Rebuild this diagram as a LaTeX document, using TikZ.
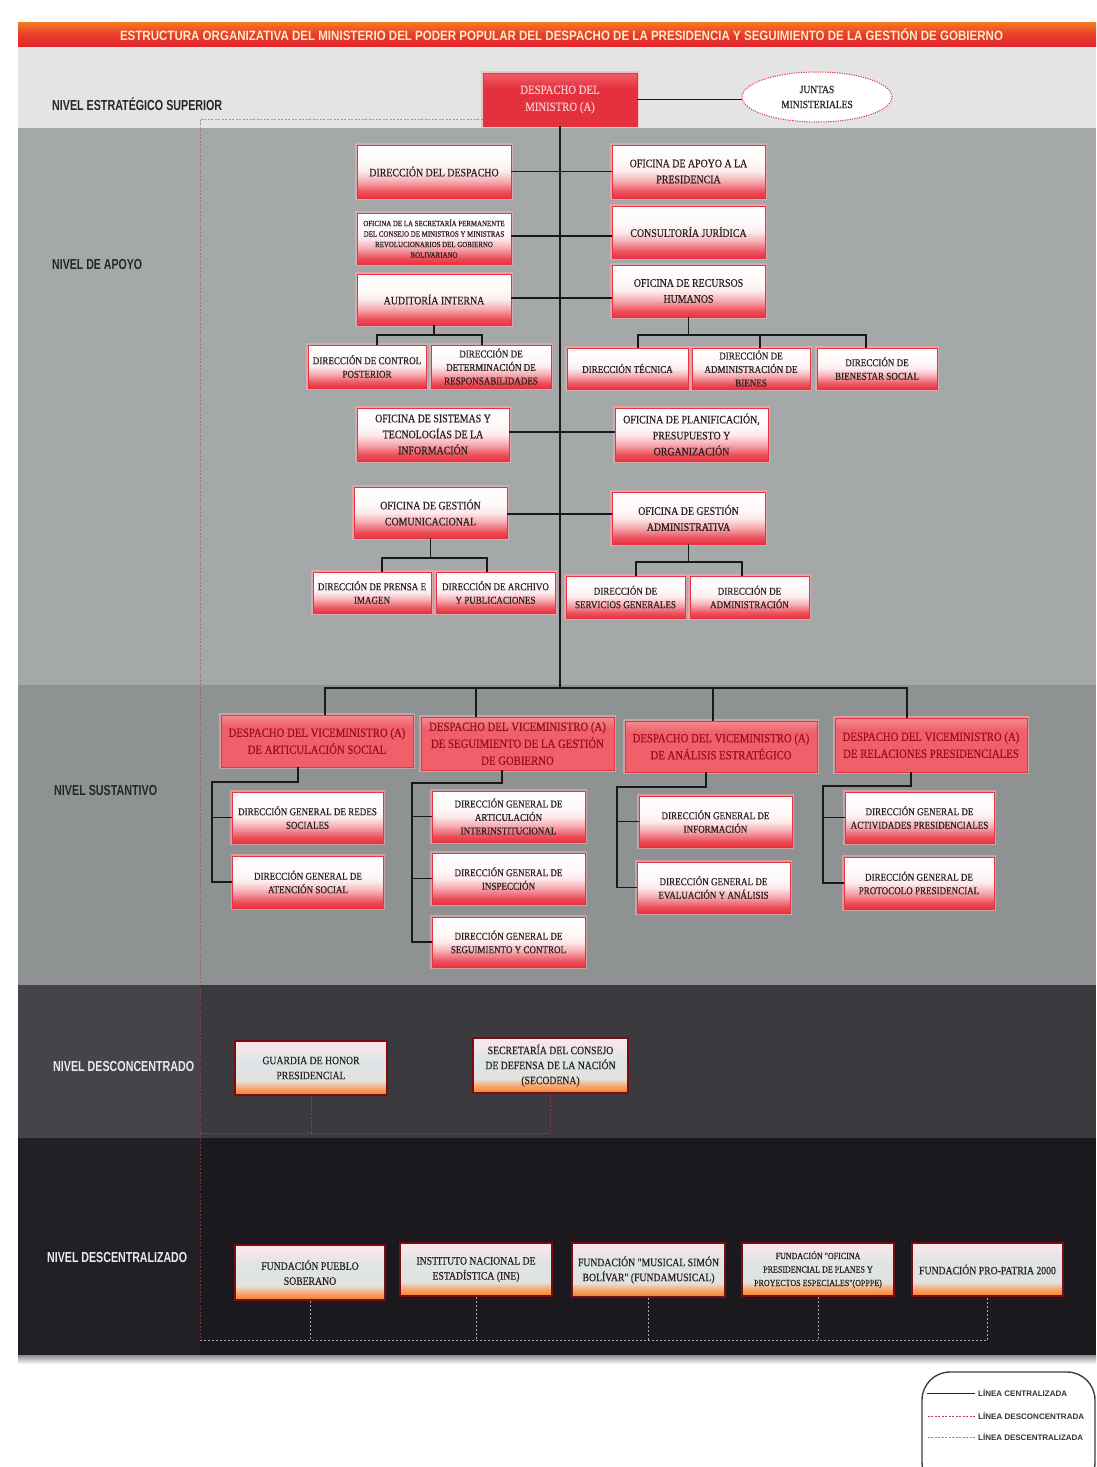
\documentclass[tikz,border=0pt]{standalone}
\usepackage{fontspec}
\usepackage{graphicx}
\setmainfont{Liberation Serif}
\newfontfamily\bxf[FakeStretch=0.86,FakeBold=0.5]{Liberation Serif}
\newfontfamily\lbf{Liberation Sans}
\usetikzlibrary{shapes.geometric}
\definecolor{bred}{HTML}{E8323F}
\colorlet{wsA}{bred!85!white}
\colorlet{wsB}{bred!40!white}
\colorlet{wsC}{bred!10!white}
\colorlet{wsD}{bred!3!white}
\definecolor{txtd}{HTML}{2A2222}
\definecolor{minred}{HTML}{E5303E}
\definecolor{minredt}{HTML}{EF5F69}
\definecolor{mintxt}{HTML}{FBC9CC}
\definecolor{vred}{HTML}{F0606A}
\definecolor{vredt}{HTML}{F58C92}
\definecolor{vtxt}{HTML}{9A1020}
\definecolor{org}{HTML}{F57A2A}
\definecolor{orgB}{HTML}{F8A466}
\definecolor{oC}{HTML}{E3E1DD}
\definecolor{oD}{HTML}{DDE5E7}
\definecolor{oE}{HTML}{FCE6EA}
\definecolor{descb}{HTML}{7A0C12}
\definecolor{bandA}{HTML}{E4E4E4}
\definecolor{bandB}{HTML}{A5A8A8}
\definecolor{bandC}{HTML}{8F9293}
\definecolor{bandD}{HTML}{3B3A3F}
\definecolor{bandDl}{HTML}{45444A}
\definecolor{bandE}{HTML}{1B191E}
\definecolor{bandEl}{HTML}{222025}
\definecolor{titA}{HTML}{F47C22}
\definecolor{titB}{HTML}{E3242D}
\definecolor{titc}{HTML}{FDEBC4}
\definecolor{dconc}{HTML}{C04050}
\pgfdeclareverticalshading{wshade}{100bp}{color(0bp)=(bred); color(25bp)=(bred); color(31bp)=(wsA); color(41bp)=(wsB); color(50bp)=(wsC); color(58bp)=(wsD); color(75bp)=(white); color(100bp)=(white)}
\pgfdeclareverticalshading{mshade}{100bp}{color(0bp)=(minred); color(25bp)=(minred); color(60bp)=(minred); color(75bp)=(minredt); color(100bp)=(minredt)}
\pgfdeclareverticalshading{vshade}{100bp}{color(0bp)=(vred); color(25bp)=(vred); color(64bp)=(vred); color(75bp)=(vredt); color(100bp)=(vredt)}
\pgfdeclareverticalshading{oshade}{100bp}{color(0bp)=(org); color(25bp)=(org); color(31bp)=(orgB); color(38bp)=(oC); color(55bp)=(oD); color(75bp)=(oE); color(100bp)=(oE)}
\tikzset{
  bx/.style 2 args={minimum width=#1pt, minimum height=#2pt},
  wbox/.style={rectangle, shade, shading=wshade, draw=bred, line width=0.9pt,
    preaction={draw=bred!40!white, line width=3.5pt, opacity=0.6},
    inner sep=1pt, align=center, text=txtd, font=\bxf\fontsize{11.5}{16}\selectfont},
  sbox/.style={wbox, font=\bxf\fontsize{10.5}{13.5}\selectfont},
  mbox/.style={rectangle, shade, shading=mshade, draw=bred, line width=0.9pt,
    preaction={draw=bred!40!white, line width=3.5pt, opacity=0.6},
    inner sep=1pt, align=center, text=mintxt, font=\bxf\fontsize{12.5}{17}\selectfont},
  vbox/.style={rectangle, shade, shading=vshade, draw=bred, line width=0.9pt,
    preaction={draw=bred!40!white, line width=3.5pt, opacity=0.6},
    inner sep=1pt, align=center, text=vtxt, font=\bxf\fontsize{12.5}{17}\selectfont},
  obox/.style={rectangle, shade, shading=oshade, draw=descb, line width=1.6pt,
    inner sep=1pt, align=center, text=txtd, font=\bxf\fontsize{11.3}{15}\selectfont},
  conn/.style={draw=black!90, line width=1.7pt},
  spine/.style={draw=black!90, line width=1.3pt},
  dcon/.style={draw=dconc, line width=0.9pt, dash pattern=on 2pt off 1.5pt, opacity=0.6},
  dcent/.style={draw=black!35, line width=0.9pt, dash pattern=on 2pt off 2pt},
  lvl/.style={inner sep=0pt, font=\lbf\bfseries\fontsize{14.5}{16}\selectfont},
  legt/.style={inner sep=0pt, text=black!80, font=\lbf\bfseries\fontsize{8}{9}\selectfont},
  legbox/.style={draw=black!75, line width=1.4pt, fill=white, rounded corners=28pt}
}
\begin{document}
\begin{tikzpicture}[x=1pt,y=-1pt]
\useasboundingbox (0,0) rectangle (1096,1467);
\clip (0,0) rectangle (1096,1467);
\fill[white] (0,0) rectangle (1096,1467);
% bands
\fill[bandA] (18,46) rectangle (1096,128);
\fill[bandB] (18,128) rectangle (1096,685);
\fill[bandC] (18,685) rectangle (1096,985);
\fill[bandD] (18,985) rectangle (1096,1138);
\fill[bandDl] (18,985) rectangle (200,1138);
\fill[bandE] (18,1138) rectangle (1096,1355);
\fill[bandEl] (18,1138) rectangle (200,1355);
\shade[top color=black!45, bottom color=white] (18,1355) rectangle (1096,1364);
% title bar
\shade[top color=titA, bottom color=titB, middle color=titB!70!titA] (18,22) rectangle (1096,46);
\node[text=titc, inner sep=0pt, font=\lbf\bfseries\fontsize{13.5}{15}\selectfont] (title) at (561.5,34.5)
  {\resizebox{883pt}{\height}{ESTRUCTURA ORGANIZATIVA DEL MINISTERIO DEL PODER POPULAR DEL DESPACHO DE LA PRESIDENCIA Y SEGUIMIENTO DE LA GESTIÓN DE GOBIERNO}};
% level labels
\node[lvl, anchor=west, text=black!85] (l1) at (52,104) {\resizebox{170pt}{\height}{NIVEL ESTRATÉGICO SUPERIOR}};
\node[lvl, anchor=west, text=black!85] (l2) at (52,265) {\resizebox{90pt}{\height}{NIVEL DE APOYO}};
\node[lvl, anchor=west, text=black!85] (l3) at (54,790) {\resizebox{103pt}{\height}{NIVEL SUSTANTIVO}};
\node[lvl, anchor=west, text=white!92!black] (l4) at (53,1066) {\resizebox{141pt}{\height}{NIVEL DESCONCENTRADO}};
\node[lvl, anchor=west, text=white!92!black] (l5) at (47,1257) {\resizebox{140pt}{\height}{NIVEL DESCENTRALIZADO}};
% top level
\node[mbox, bx={154}{53}] (min) at (560,99.5) {DESPACHO DEL\\MINISTRO (A)};
\node[ellipse, draw=bred, dash pattern=on 1.2pt off 1.2pt, line width=1pt, fill=white, bx={150}{50}, inner sep=0pt, align=center, text=txtd, font=\bxf\fontsize{11}{15}\selectfont] (jun) at (817,97) {JUNTAS\\MINISTERIALES};
% apoyo level
\node[wbox, bx={154}{53}] (dd) at (434,171.5) {DIRECCIÓN DEL DESPACHO};
\node[wbox, bx={154}{51}, font=\bxf\fontsize{8}{10.5}\selectfont] (sec) at (434,238.5) {OFICINA DE LA SECRETARÍA PERMANENTE\\DEL CONSEJO DE MINISTROS Y MINISTRAS\\REVOLUCIONARIOS DEL GOBIERNO\\BOLIVARIANO};
\node[wbox, bx={154}{51}] (aud) at (434,299.5) {AUDITORÍA INTERNA};
\node[wbox, bx={153}{53}] (apo) at (688.5,171.5) {OFICINA DE APOYO A LA\\PRESIDENCIA};
\node[wbox, bx={153}{52}] (cj) at (688.5,232) {CONSULTORÍA JURÍDICA};
\node[wbox, bx={153}{52}] (rrhh) at (688.5,291) {OFICINA DE RECURSOS\\HUMANOS};
\node[sbox, bx={118}{43}] (dcp) at (367,366.5) {DIRECCIÓN DE CONTROL\\POSTERIOR};
\node[sbox, bx={120}{43}] (ddr) at (491,366.5) {DIRECCIÓN DE\\DETERMINACIÓN DE\\RESPONSABILIDADES};
\node[sbox, bx={121}{41}] (dt) at (627.5,368.5) {DIRECCIÓN TÉCNICA};
\node[sbox, bx={118}{41}] (dab) at (751,368.5) {DIRECCIÓN DE\\ADMINISTRACIÓN DE\\BIENES};
\node[sbox, bx={120}{41}] (dbs) at (877,368.5) {DIRECCIÓN DE\\BIENESTAR SOCIAL};
\node[wbox, bx={152}{53}] (ost) at (433,434.5) {OFICINA DE SISTEMAS Y\\TECNOLOGÍAS DE LA\\INFORMACIÓN};
\node[wbox, bx={153}{53}] (opp) at (691.5,434.5) {OFICINA DE PLANIFICACIÓN,\\PRESUPUESTO Y\\ORGANIZACIÓN};
\node[wbox, bx={153}{51}] (ogc) at (430.5,512.5) {OFICINA DE GESTIÓN\\COMUNICACIONAL};
\node[wbox, bx={153}{52}] (oga) at (688.5,518) {OFICINA DE GESTIÓN\\ADMINISTRATIVA};
\node[sbox, bx={118}{41}] (dpi) at (372,592.5) {DIRECCIÓN DE PRENSA E\\IMAGEN};
\node[sbox, bx={119}{41}] (dap) at (495.5,592.5) {DIRECCIÓN DE ARCHIVO\\Y PUBLICACIONES};
\node[sbox, bx={119}{42}] (dsg) at (625.5,597) {DIRECCIÓN DE\\SERVICIOS GENERALES};
\node[sbox, bx={119}{42}] (dad) at (749.5,597) {DIRECCIÓN DE\\ADMINISTRACIÓN};
% sustantivo level
\node[vbox, bx={192}{52}] (v1) at (317,741) {DESPACHO DEL VICEMINISTRO (A)\\DE ARTICULACIÓN SOCIAL};
\node[vbox, bx={193}{53}] (v2) at (517.5,743.5) {DESPACHO DEL VICEMINISTRO (A)\\DE SEGUIMIENTO DE LA GESTIÓN\\DE GOBIERNO};
\node[vbox, bx={192}{51}] (v3) at (721,746.5) {DESPACHO DEL VICEMINISTRO (A)\\DE ANÁLISIS ESTRATÉGICO};
\node[vbox, bx={192}{54}] (v4) at (931,745) {DESPACHO DEL VICEMINISTRO (A)\\DE RELACIONES PRESIDENCIALES};
\node[sbox, bx={151}{51}] (g11) at (307.5,817.5) {DIRECCIÓN GENERAL DE REDES\\SOCIALES};
\node[sbox, bx={151}{52}] (g12) at (308,882) {DIRECCIÓN GENERAL DE\\ATENCIÓN SOCIAL};
\node[sbox, bx={153}{51}] (g21) at (508.5,816.5) {DIRECCIÓN GENERAL DE\\ARTICULACIÓN\\INTERINSTITUCIONAL};
\node[sbox, bx={153}{51}] (g22) at (508.5,878.5) {DIRECCIÓN GENERAL DE\\INSPECCIÓN};
\node[sbox, bx={153}{50}] (g23) at (508.5,942) {DIRECCIÓN GENERAL DE\\SEGUIMIENTO Y CONTROL};
\node[sbox, bx={153}{51}] (g31) at (715.5,821.5) {DIRECCIÓN GENERAL DE\\INFORMACIÓN};
\node[sbox, bx={153}{51}] (g32) at (713.5,887.5) {DIRECCIÓN GENERAL DE\\EVALUACIÓN Y ANÁLISIS};
\node[sbox, bx={149}{51}] (g41) at (919.5,817.5) {DIRECCIÓN GENERAL DE\\ACTIVIDADES PRESIDENCIALES};
\node[sbox, bx={150}{52}] (g42) at (919,883) {DIRECCIÓN GENERAL DE\\PROTOCOLO PRESIDENCIAL};
% desconcentrado
\node[obox, bx={152}{54}] (ghp) at (311,1068) {GUARDIA DE HONOR\\PRESIDENCIAL};
\node[obox, bx={155}{55}] (scd) at (550.5,1065.5) {SECRETARÍA DEL CONSEJO\\DE DEFENSA DE LA NACIÓN\\(SECODENA)};
% descentralizado
\node[obox, bx={150}{55}] (fps) at (310,1272.5) {FUNDACIÓN PUEBLO\\SOBERANO};
\node[obox, bx={152}{53}] (ine) at (476,1269.5) {INSTITUTO NACIONAL DE\\ESTADÍSTICA (INE)};
\node[obox, bx={153}{54}] (fms) at (648.5,1270) {FUNDACIÓN "MUSICAL SIMÓN\\BOLÍVAR" (FUNDAMUSICAL)};
\node[obox, bx={152}{53}, font=\bxf\fontsize{9.3}{13.5}\selectfont] (fop) at (818,1269.5) {FUNDACIÓN "OFICINA\\PRESIDENCIAL DE PLANES Y\\PROYECTOS ESPECIALES"(OPPPE)};
\node[obox, bx={151}{53}] (fpp) at (987.5,1269.5) {FUNDACIÓN PRO-PATRIA 2000};
% ---- connectors: centralized ----
\coordinate (hs) at (560,688);
\draw[spine] (min.south) -- (hs);
\draw[conn] (min.east) -- (min.east -| jun.west);
\coordinate (r1) at (560,171.5);
\coordinate (r2) at (560,236);
\coordinate (r3) at (560,298);
\coordinate (r4) at (560,432);
\coordinate (r5) at (560,514);
\draw[conn] (r1 -| dd.east) -- (r1 -| apo.west);
\draw[conn] (r2 -| sec.east) -- (r2 -| cj.west);
\draw[conn] (r3 -| aud.east) -- (r3 -| rrhh.west);
\draw[conn] (r4 -| ost.east) -- (r4 -| opp.west);
\draw[conn] (r5 -| ogc.east) -- (r5 -| oga.west);
% auditoria children
\coordinate (a1) at (434,335);
\coordinate (dcpN) at ([xshift=10pt]dcp.north);
\coordinate (ddrN) at ([xshift=-9pt]ddr.north);
\draw[conn] (aud.south) -- (a1);
\draw[conn] (dcpN) |- (a1) -| (ddrN);
% rrhh children
\coordinate (a2) at (688.5,335);
\coordinate (dtN) at ([xshift=10.5pt]dt.north);
\coordinate (dabN) at ([xshift=9pt]dab.north);
\coordinate (dbsN) at ([xshift=-11pt]dbs.north);
\draw[conn] (rrhh.south) -- (a2);
\draw[conn] (dtN) |- (a2) -| (dbsN);
\draw[conn] (dabN) -- (dabN |- a2);
% comunicacional children
\coordinate (a3) at (430.5,558);
\coordinate (dpiN) at ([xshift=10pt]dpi.north);
\coordinate (dapN) at ([xshift=-8.5pt]dap.north);
\draw[conn] (ogc.south) -- (a3);
\draw[conn] (dpiN) |- (a3) -| (dapN);
% administrativa children
\coordinate (a4) at (688.5,562);
\coordinate (dsgN) at ([xshift=10.5pt]dsg.north);
\coordinate (dadN) at ([xshift=-7.5pt]dad.north);
\draw[conn] (oga.south) -- (a4);
\draw[conn] (dsgN) |- (a4) -| (dadN);
% viceministros
\coordinate (v1N) at ([xshift=8pt]v1.north);
\coordinate (v2N) at ([xshift=-41.5pt]v2.north);
\coordinate (v3N) at ([xshift=-8pt]v3.north);
\coordinate (v4N) at ([xshift=-24pt]v4.north);
\draw[conn] (v1N) |- (hs) -| (v4N);
\draw[conn] (v2N) -- (v2N |- hs);
\draw[conn] (v3N) -- (v3N |- hs);
% vice children
\coordinate (v1S) at ([xshift=-19pt]v1.south);
\coordinate (k1) at (212,782);
\draw[conn] (v1S) |- (k1) |- (g12.west);
\draw[conn] (k1 |- g11.west) -- (g11.west);
\coordinate (v2S) at ([xshift=-15.5pt]v2.south);
\coordinate (k2) at (412,783);
\draw[conn] (v2S) |- (k2) |- (g23.west);
\draw[conn] (k2 |- g21.west) -- (g21.west);
\draw[conn] (k2 |- g22.west) -- (g22.west);
\coordinate (v3S) at ([xshift=-15pt]v3.south);
\coordinate (k3) at (617,787);
\draw[conn] (v3S) |- (k3) |- (g32.west);
\draw[conn] (k3 |- g31.west) -- (g31.west);
\coordinate (v4S) at ([xshift=-20pt]v4.south);
\coordinate (k4) at (823,786);
\draw[conn] (v4S) |- (k4) |- (g42.west);
\draw[conn] (k4 |- g41.west) -- (g41.west);
% ---- desconcentrada ----
\coordinate (c0) at (200,119);
\coordinate (c1) at (200,1133);
\coordinate (c2) at (200,1340);
\draw[dcon] (min.west |- c0) -- (c0) -- (c1) -| (scd.south);
\draw[dcon] (ghp.south) -- (ghp.south |- c1);
\draw[dcon] (c1) -- (c2);
% ---- descentralizada ----
\draw[dcent] (c2) -| (fpp.south);
\draw[dcent] (fps.south) -- (fps.south |- c2);
\draw[dcent] (ine.south) -- (ine.south |- c2);
\draw[dcent] (fms.south) -- (fms.south |- c2);
\draw[dcent] (fop.south) -- (fop.south |- c2);
% ---- legend ----
\draw[legbox] (922,1372) rectangle (1095,1490);
\node[legt, anchor=west] (lg1) at (978,1393) {\resizebox{89pt}{\height}{LÍNEA CENTRALIZADA}};
\node[legt, anchor=west] (lg2) at (978,1416) {\resizebox{106pt}{\height}{LÍNEA DESCONCENTRADA}};
\node[legt, anchor=west] (lg3) at (978,1437) {\resizebox{105pt}{\height}{LÍNEA DESCENTRALIZADA}};
\draw[black!85, line width=1pt] ([xshift=-3pt]lg1.west) -- ++(-48,0);
\draw[dconc, line width=0.8pt, dash pattern=on 2pt off 1.5pt] ([xshift=-3pt]lg2.west) -- ++(-48,0);
\draw[black!45, line width=0.8pt, dash pattern=on 2pt off 1.5pt] ([xshift=-3pt]lg3.west) -- ++(-48,0);
\end{tikzpicture}
\end{document}
